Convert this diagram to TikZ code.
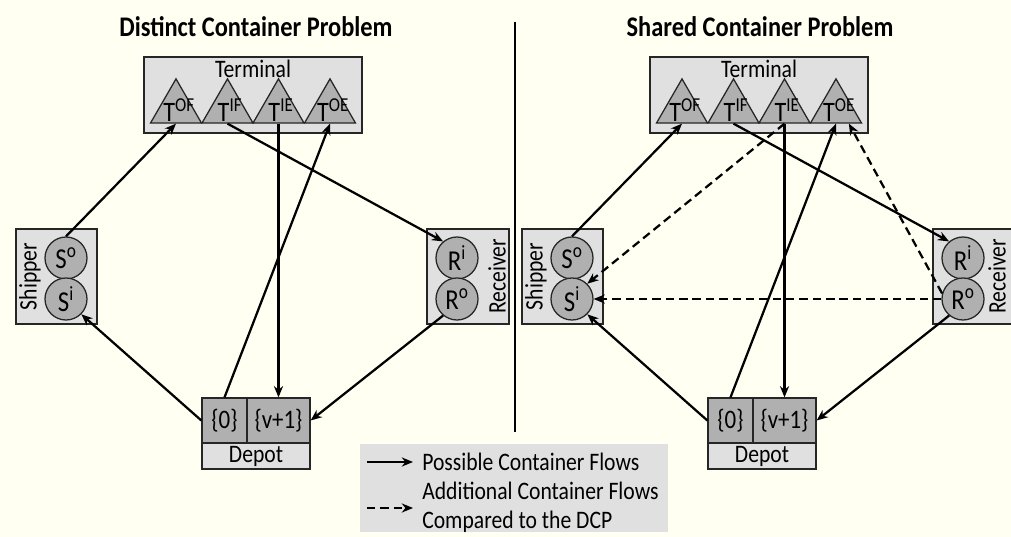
\documentclass[tikz,border=0pt]{standalone}
\usepackage{fontspec}
\setmainfont{Carlito}[FakeStretch=0.86]
\usetikzlibrary{arrows.meta,%
	shapes.geometric}

\definecolor{bgcream}{RGB}{255,255,242}
\definecolor{boxgray}{RGB}{224,224,224}
\definecolor{nodegray}{RGB}{176,176,176}

\begin{document}
\begin{tikzpicture}[x=0.025cm,y=-0.025cm,
	group_box/.style={rectangle,fill=boxgray,draw=black!85,line width=0.9pt,inner sep=0pt},
	place_node/.style={circle,fill=nodegray,draw=black!85,line width=0.9pt,minimum size=1.05cm,inner sep=0pt,font=\fontsize{20.5}{22}\selectfont},
	term_node/.style={regular polygon,regular polygon sides=3,fill=nodegray,draw=black!85,line width=0.9pt,minimum size=1.47cm,inner sep=0pt},
	cell_node/.style={rectangle,fill=nodegray,draw=black!85,line width=0.9pt,minimum height=1.125cm,inner sep=0pt,font=\fontsize{19}{21}\selectfont},
	label_text/.style={font=\fontsize{17.9}{20.5}\selectfont,inner sep=0pt},
	tlab_text/.style={font=\fontsize{20}{22}\selectfont,inner sep=0pt,anchor=base},
	title_text/.style={font=\bfseries\fontsize{20.2}{23}\selectfont,inner sep=0pt},
	flow/.style={line width=1.6pt,-{Stealth[length=8pt,width=6.5pt]}},
	extra_flow/.style={flow,dash pattern=on 6pt off 3.5pt}]

	\fill[bgcream] (0,0) rectangle (1011,537);
	\useasboundingbox (0,0) rectangle (1011,537);

	\node[title_text] (dcp_title) at (256,27) {Distinct Container Problem};
	\node[title_text] (scp_title) at (760,27) {Shared Container Problem};
	\coordinate (div_top) at (515,22);
	\coordinate (div_bot) at (515,432);
	\draw[line width=0.8pt] (div_top) -- (div_bot);

	\foreach \dx/\p/\rx in {0/l/497,506/r/997}{
		% terminal
		\node[group_box,minimum width=5.45cm,minimum height=1.9cm] (\p-term) at (253+\dx,95) {};
		\node[label_text] (\p-termlab) at (253+\dx,69) {Terminal};
		\node[term_node] (\p-tof) at (176+\dx,108.3) {};
		\node[term_node] (\p-tif) at (227.5+\dx,108.3) {};
		\node[term_node] (\p-tie) at (278.5+\dx,108.3) {};
		\node[term_node] (\p-toe) at (330+\dx,108.3) {};
		\node[tlab_text] (\p-toflab) at (179+\dx,122) {T\textsuperscript{OF}};
		\node[tlab_text] (\p-tiflab) at (230+\dx,122) {T\textsuperscript{IF}};
		\node[tlab_text] (\p-tielab) at (281+\dx,122) {T\textsuperscript{IE}};
		\node[tlab_text] (\p-toelab) at (333+\dx,122) {T\textsuperscript{OE}};
		% shipper
		\node[group_box,minimum width=2.025cm,minimum height=2.375cm] (\p-ship) at (56.5+\dx,276.5) {};
		\node[label_text,rotate=90] (\p-shiplab) at (30+\dx,276.5) {Shipper};
		\node[place_node] (\p-so) at (66+\dx,258) {S\textsuperscript{o}};
		\node[place_node] (\p-si) at (66+\dx,299) {S\textsuperscript{i}};
		% receiver
		\node[group_box,minimum width=2.05cm,minimum height=2.375cm] (\p-rec) at (468+\dx,276.5) {};
		\node[label_text,rotate=90] (\p-reclab) at (\rx,276.5) {Receiver};
		\node[place_node] (\p-ri) at (457+\dx,258) {R\textsuperscript{i}};
		\node[place_node] (\p-ro) at (457+\dx,299) {R\textsuperscript{o}};
		% depot
		\node[cell_node,minimum width=1.125cm] (\p-d0) at (224.5+\dx,420.5) {\{0\}};
		\node[cell_node,minimum width=1.575cm] (\p-dv) at (278.5+\dx,420.5) {\{v+1\}};
		\node[group_box,label_text,minimum width=2.7cm,minimum height=0.65cm] (\p-dep) at (256+\dx,456) {Depot};
		% flows
		\draw[flow] (\p-so.north) -- (\p-tof.side 2);
		\draw[flow] (\p-tif.side 2) -- (\p-ri.130);
		\draw[flow] (\p-tie.side 2) -- (\p-dv.north);
		\draw[flow] (\p-d0.north) -- (\p-toe.side 2);
		\draw[flow] (\p-ro.230) -- (\p-dv.east);
		\draw[flow] (\p-d0.west) -- (\p-si.-45);
	}

	% additional flows of the shared problem
	\draw[extra_flow] (r-tie.side 2) -- (r-si.45);
	\draw[extra_flow] (r-ro.west) -- (r-si.east);
	\draw[extra_flow] (r-ro.165) -- (r-toe.-50);

	% legend
	\node[fill=boxgray,minimum width=7.7cm,minimum height=2.2cm,inner sep=0pt] (legend) at (514,488) {};
	\coordinate (leg_a1) at (367,462);
	\coordinate (leg_b1) at (413,462);
	\coordinate (leg_a2) at (367,508);
	\coordinate (leg_b2) at (413,508);
	\draw[flow] (leg_a1) -- (leg_b1);
	\draw[extra_flow] (leg_a2) -- (leg_b2);
	\node[label_text,anchor=west] (leg_t1) at (422,462) {Possible Container Flows};
	\node[label_text,anchor=west,align=left] (leg_t2) at (422,507) {Additional Container Flows\\Compared to the DCP};

\end{tikzpicture}
\end{document}
